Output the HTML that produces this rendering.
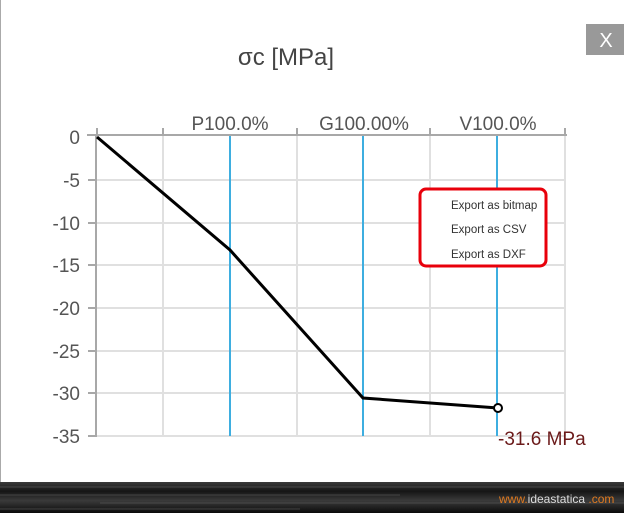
<!DOCTYPE html>
<html><head><meta charset="utf-8"><style>
body{margin:0;width:624px;height:513px;overflow:hidden;background:#fff;font-family:"Liberation Sans",sans-serif}
</style></head><body>
<svg width="624" height="513" xmlns="http://www.w3.org/2000/svg" font-family="Liberation Sans, sans-serif">
<defs><linearGradient id="bg" x1="0" y1="0" x2="0" y2="1">
<stop offset="0" stop-color="#3a3a3a"/><stop offset="0.3" stop-color="#151515"/><stop offset="0.6" stop-color="#3a3a3a"/><stop offset="1" stop-color="#0a0a0a"/></linearGradient></defs>
<rect x="0" y="0" width="624" height="513" fill="#fff"/>
<line x1="0.5" y1="0" x2="0.5" y2="482" stroke="#aaa"/>
<rect x="586" y="24" width="38" height="31" fill="#999"/>
<text x="606" y="47" font-size="20" fill="#fff" text-anchor="middle">X</text>
<text x="286" y="65" font-size="24" fill="#444" text-anchor="middle">σc [MPa]</text>
<g stroke="#e0e0e0" stroke-width="2">
<line x1="97" y1="180" x2="565" y2="180"/><line x1="97" y1="223" x2="565" y2="223"/>
<line x1="97" y1="265" x2="565" y2="265"/><line x1="97" y1="308" x2="565" y2="308"/>
<line x1="97" y1="351" x2="565" y2="351"/><line x1="97" y1="393" x2="565" y2="393"/>
<line x1="97" y1="436" x2="565" y2="436"/>
<line x1="163" y1="136" x2="163" y2="436"/><line x1="297" y1="136" x2="297" y2="436"/>
<line x1="430" y1="136" x2="430" y2="436"/><line x1="565" y1="136" x2="565" y2="436"/>
</g>
<g stroke="#3eaee0" stroke-width="2">
<line x1="230" y1="136" x2="230" y2="436"/><line x1="363" y1="136" x2="363" y2="436"/><line x1="497" y1="136" x2="497" y2="436"/>
</g>
<g stroke="#a8a8a8" stroke-width="2">
<line x1="96" y1="135" x2="96" y2="437"/>
<line x1="87" y1="135" x2="567" y2="135"/>
<line x1="97" y1="128" x2="97" y2="135"/><line x1="163" y1="128" x2="163" y2="135"/>
<line x1="297" y1="128" x2="297" y2="135"/><line x1="430" y1="128" x2="430" y2="135"/><line x1="565" y1="128" x2="565" y2="135"/>
<line x1="88" y1="180" x2="96" y2="180"/><line x1="88" y1="223" x2="96" y2="223"/><line x1="88" y1="265" x2="96" y2="265"/>
<line x1="88" y1="308" x2="96" y2="308"/><line x1="88" y1="351" x2="96" y2="351"/><line x1="88" y1="393" x2="96" y2="393"/><line x1="88" y1="436" x2="96" y2="436"/>
</g>
<g font-size="19" fill="#555" text-anchor="end">
<text x="80" y="144">0</text><text x="80" y="187">-5</text><text x="80" y="230">-10</text>
<text x="80" y="272">-15</text><text x="80" y="315">-20</text><text x="80" y="358">-25</text>
<text x="80" y="400">-30</text><text x="80" y="443">-35</text>
</g>
<g font-size="19" fill="#555" text-anchor="middle">
<text x="230" y="130">P100.0%</text><text x="364" y="130">G100.00%</text><text x="498" y="130">V100.0%</text>
</g>
<polyline points="97,137 230,250 363,398 498,408" fill="none" stroke="#000" stroke-width="3"/>
<circle cx="498" cy="408" r="4" fill="#fff" stroke="#000" stroke-width="2"/>
<text x="498" y="445" font-size="19" fill="#6b1a1a">-31.6 MPa</text>
<rect x="420" y="189" width="126" height="77" rx="6" fill="#fff" stroke="#e8000b" stroke-width="3"/>
<g font-size="11.5" fill="#333"><text x="451" y="209">Export as bitmap</text><text x="451" y="233">Export as CSV</text><text x="451" y="258">Export as DXF</text></g>
<rect x="0" y="482" width="624" height="31" fill="url(#bg)"/>
<g stroke="#555" stroke-width="1" opacity="0.7"><line x1="0" y1="487" x2="624" y2="487"/><line x1="0" y1="495" x2="400" y2="495"/><line x1="100" y1="503" x2="624" y2="503"/><line x1="0" y1="509" x2="300" y2="509"/></g>
<text x="499" y="503" font-size="12" fill="#e07a20">www.<tspan fill="#ddd">ideastatica</tspan> .com</text>
</svg>
</body></html>
